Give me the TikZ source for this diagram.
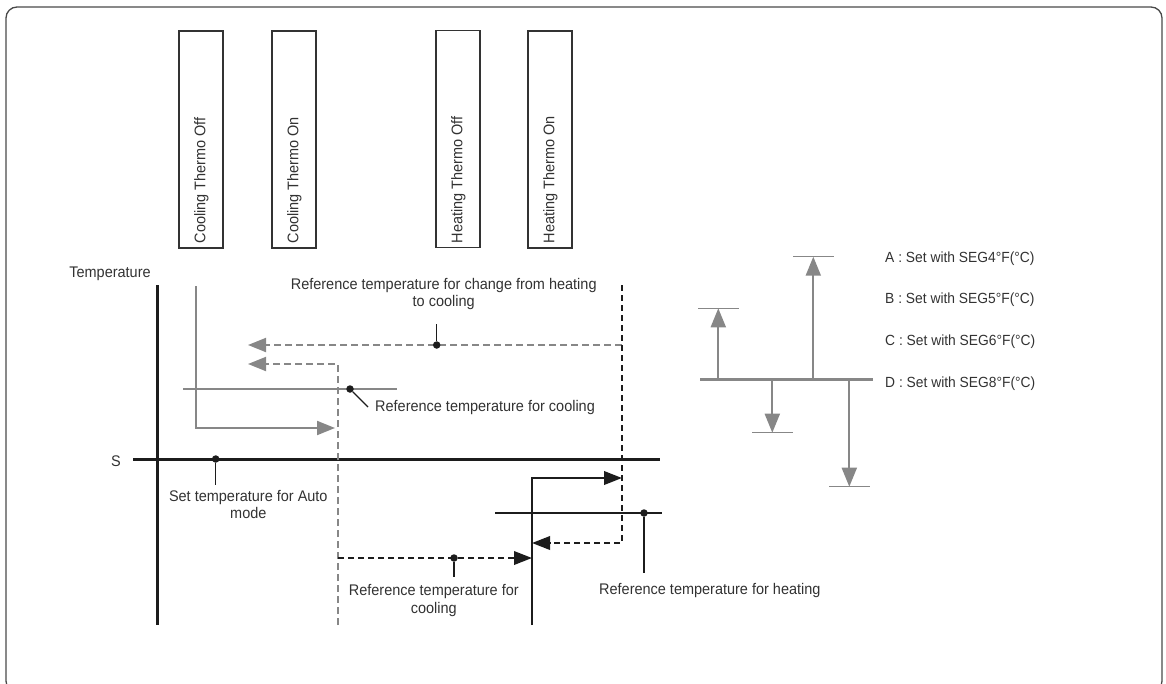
\documentclass[tikz,border=0pt]{standalone}
\usepackage{fontspec}
\setmainfont{Liberation Sans}[FakeStretch=0.94]
\usetikzlibrary{arrows.meta}
\definecolor{gr}{RGB}{135,135,135}
\definecolor{dk}{RGB}{28,28,28}
\definecolor{tx}{RGB}{50,50,50}
\begin{document}
\begin{tikzpicture}[x=1pt,y=-1pt,
  lbl/.style={font=\fontsize{15.4}{17.8}\selectfont, text=tx, inner sep=0pt},
  rlbl/.style={font=\fontsize{14.7}{16}\selectfont, text=tx, inner sep=0pt, anchor=west},
  thermobox/.style={draw=dk!90, line width=1.2pt, minimum width=44pt, minimum height=217pt, inner sep=0pt},
  axisline/.style={draw=dk, line width=3pt},
  gsolid/.style={draw=gr, line width=2pt},
  gthin/.style={draw=gr, line width=1.3pt},
  gdash/.style={draw=gr, line width=1.9pt, dash pattern=on 7pt off 4pt},
  kdash/.style={draw=dk, line width=2pt, dash pattern=on 6pt off 4pt},
  ksolid/.style={draw=dk, line width=2.2pt},
  kthin/.style={draw=dk, line width=1.2pt},
  gtip/.style={-{Triangle[length=18pt,width=14pt]}},
  ktip/.style={-{Triangle[length=18pt,width=13.5pt]}},
  rtip/.style={-{Triangle[length=19pt,width=15pt]}},
  leader/.style={draw=dk, line width=1.2pt},
  dot/.style={circle, fill=dk, inner sep=0pt, minimum size=7.5pt}
]
\useasboundingbox (0,0) rectangle (1166,683);
\clip (0,0) rectangle (1166,683);
\draw[draw=dk!80, line width=1.3pt, rounded corners=11pt] (6,7) rectangle (1162,692);

% thermo boxes
\node[thermobox] (b1) at (201,139.5) {};
\node[thermobox] (b2) at (294,139.5) {};
\node[thermobox] (b3) at (458,139) {};
\node[thermobox] (b4) at (550,139.5) {};
\node[lbl, rotate=90, anchor=west] (t1) at (201.5,243.5) {Cooling Thermo Off};
\node[lbl, rotate=90, anchor=west] (t2) at (294.5,243.5) {Cooling Thermo On};
\node[lbl, rotate=90, anchor=west] (t3) at (458.5,243.5) {Heating Thermo Off};
\node[lbl, rotate=90, anchor=west] (t4) at (550.5,243.5) {Heating Thermo On};

% axes
\node[lbl] (temp) at (110,274) {Temperature};
\node[lbl] (slbl) at (116,461) {S};
\coordinate (yT) at (157,285);
\coordinate (yB) at (157,625);
\coordinate (sL) at (133,459);
\coordinate (sR) at (660,459);
\draw[axisline] (yT) -- (yB);
\draw[axisline] (sL) -- (sR);

% set temperature for auto
\node[dot] (dAuto) at (215.7,459) {};
\coordinate (dAutoE) at (215.7,485);
\draw[leader] (dAuto) -- (dAutoE);
\node[lbl, align=center] (tAuto) at (248.3,504.5) {Set temperature for Auto\\mode};

% gray cooling part
\coordinate (g1) at (196,286);
\coordinate (g2) at (196,428);
\coordinate (g3) at (335,428);
\draw[gsolid, gtip] (g1) -- (g2) -- (g3);
\coordinate (gl1) at (183,389);
\coordinate (gl2) at (397,389);
\draw[gthin] (gl1) -- (gl2);
\node[dot] (dCool) at (350,389) {};
\coordinate (dCoolE) at (368,407);
\draw[leader] (dCool) -- (dCoolE);
\node[lbl, anchor=west] (tCool) at (375,408) {Reference temperature for cooling};

\coordinate (ga1) at (622,345);
\coordinate (ga2) at (248,345);
\draw[gdash, gtip] (ga1) -- (ga2);
\node[dot] (dChange) at (436.7,345) {};
\coordinate (dChangeE) at (436.7,324);
\draw[leader] (dChange) -- (dChangeE);
\node[lbl, align=center] (tChange) at (443.7,294) {Reference temperature for change from heating\\to cooling};

\coordinate (gb1) at (338,625);
\coordinate (gb2) at (338,364);
\coordinate (gb3) at (248,364);
\draw[gdash, gtip] (gb1) -- (gb2) -- (gb3);

% black heating part
\coordinate (k1) at (622,285);
\coordinate (k2) at (622,543);
\coordinate (k3) at (532,543);
\draw[kdash, ktip] (k1) -- (k2) -- (k3);
\coordinate (s1) at (532,625);
\coordinate (s2) at (532,478);
\coordinate (s3) at (622,478);
\draw[ksolid, ktip] (s1) -- (s2) -- (s3);
\coordinate (kl1) at (495,513);
\coordinate (kl2) at (662,513);
\draw[kthin] (kl1) -- (kl2);
\node[dot] (dHeat) at (644,513) {};
\coordinate (dHeatE) at (644,573);
\draw[leader] (dHeat) -- (dHeatE);
\node[lbl, anchor=west] (tHeat) at (599,591) {Reference temperature for heating};

\coordinate (kd1) at (338,558);
\coordinate (kd2) at (532,558);
\draw[kdash, ktip] (kd1) -- (kd2);
\node[dot] (dCool2) at (454,558) {};
\coordinate (dCool2E) at (454,577);
\draw[leader] (dCool2) -- (dCool2E);
\node[lbl, align=center] (tCool2) at (433.8,600.5) {Reference temperature for\\cooling};

% right legend diagram
\coordinate (bar1) at (700,379);
\coordinate (bar2) at (873,379);
\draw[draw=gr, line width=3pt] (bar1) -- (bar2);
\coordinate (a0) at (718.3,379);  \coordinate (a1) at (718.3,308.3);
\coordinate (at1) at (698,308.3); \coordinate (at2) at (738.5,308.3);
\draw[gsolid, rtip] (a0) -- (a1);
\draw[gthin] (at1) -- (at2);
\coordinate (b0) at (813.3,379);  \coordinate (bb1) at (813.3,256.7);
\coordinate (bt1) at (793,256.7); \coordinate (bt2) at (833.5,256.7);
\draw[gsolid, rtip] (b0) -- (bb1);
\draw[gthin] (bt1) -- (bt2);
\coordinate (c0) at (772.3,379);  \coordinate (c1) at (772.3,432.7);
\coordinate (ct1) at (752,432.7); \coordinate (ct2) at (792.5,432.7);
\draw[gsolid, rtip] (c0) -- (c1);
\draw[gthin] (ct1) -- (ct2);
\coordinate (d0) at (849.3,379);  \coordinate (d1) at (849.3,486.7);
\coordinate (dt1) at (829,486.7); \coordinate (dt2) at (869.5,486.7);
\draw[gsolid, rtip] (d0) -- (d1);
\draw[gthin] (dt1) -- (dt2);

\node[rlbl] (lA) at (885,259) {A : Set with SEG4°F(°C)};
\node[rlbl] (lB) at (885,300) {B : Set with SEG5°F(°C)};
\node[rlbl] (lC) at (885,342) {C : Set with SEG6°F(°C)};
\node[rlbl] (lD) at (885,384) {D : Set with SEG8°F(°C)};
\end{tikzpicture}
\end{document}
